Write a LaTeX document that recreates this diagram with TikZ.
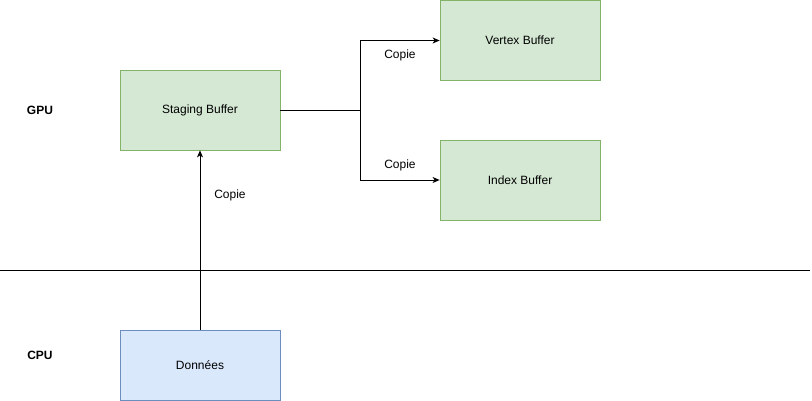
\documentclass[tikz,border=0pt]{standalone}
\usepackage{fontspec}
\setmainfont{Liberation Sans}
\usetikzlibrary{arrows.meta}
\definecolor{gfill}{HTML}{D5E8D4}
\definecolor{gdraw}{HTML}{82B366}
\definecolor{bfill}{HTML}{DAE8FC}
\definecolor{bdraw}{HTML}{6C8EBF}
\begin{document}
\begin{tikzpicture}[x=1pt,y=-1pt,
  gbox/.style={draw=gdraw,fill=gfill,minimum width=160pt,minimum height=80pt,font=\fontsize{12}{14}\selectfont,inner sep=0pt,line width=0.8pt},
  bbox/.style={draw=bdraw,fill=bfill,minimum width=160pt,minimum height=70pt,font=\fontsize{12}{14}\selectfont,inner sep=0pt,line width=0.8pt},
  lbl/.style={font=\fontsize{12}{14}\selectfont,inner sep=0pt},
  blbl/.style={font=\bfseries\fontsize{12}{14}\selectfont,inner sep=0pt},
  conn/.style={draw=black,line width=0.8pt,-{Stealth[length=7pt,width=6pt,inset=2pt]}}]
\useasboundingbox (0,0) rectangle (812,401);
\node[gbox] (stag) at (200,110) {Staging Buffer};
\node[gbox] (vert) at (520,40.5) {Vertex Buffer};
\node[gbox] (idx) at (520,180) {Index Buffer};
\node[bbox] (don) at (200,365) {Données};
\coordinate (sepL) at (0,270);
\coordinate (sepR) at (810,270);
\draw[line width=0.8pt] (sepL) -- (sepR);
\node[blbl] (gpu) at (40,110) {GPU};
\node[blbl] (cpu) at (40,355) {CPU};
\coordinate (split) at (360,110);
\draw[line width=0.8pt] (stag.east) -- (split);
\draw[conn] (split) |- (vert.west);
\draw[conn] (split) |- (idx.west);
\draw[conn] (don.north) -- (stag.south);
\node[lbl] (c1) at (230,195) {Copie};
\node[lbl] (c2) at (400,55) {Copie};
\node[lbl] (c3) at (400,165) {Copie};
\end{tikzpicture}
\end{document}
